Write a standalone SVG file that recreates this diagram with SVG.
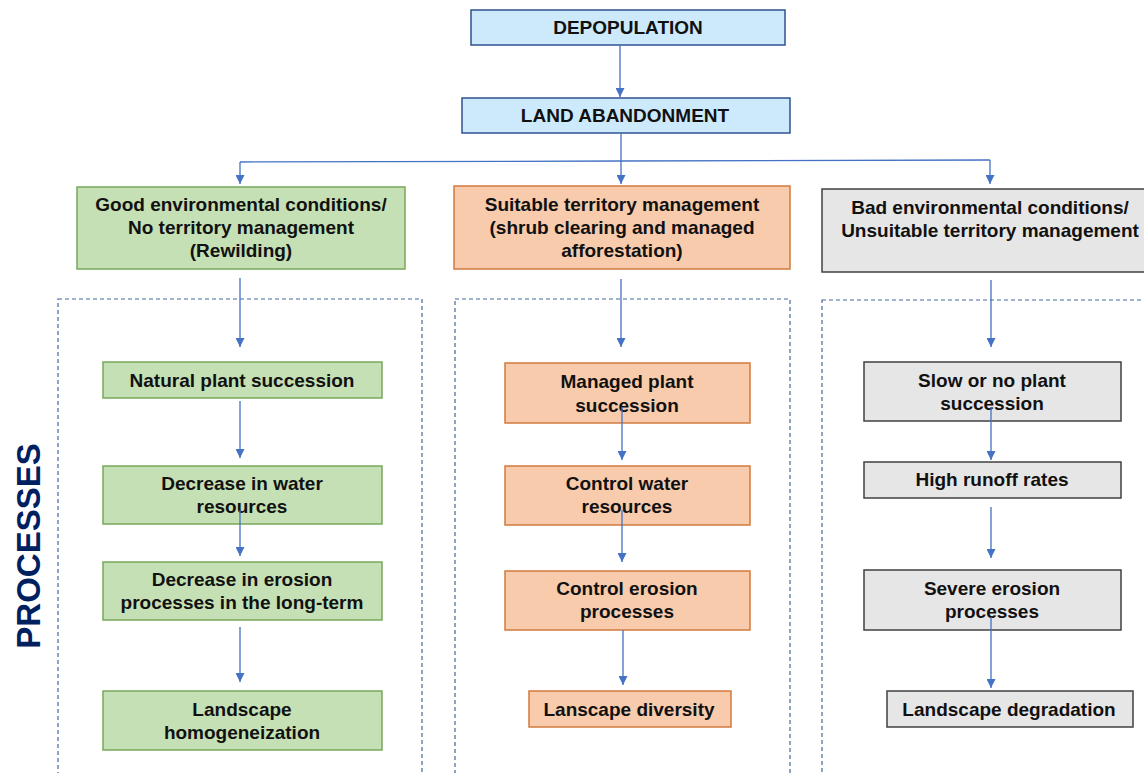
<svg xmlns="http://www.w3.org/2000/svg" width="1144" height="773" viewBox="0 0 1144 773">
<defs>
<marker id="ah" viewBox="0 0 10 10" refX="10" refY="5" markerWidth="9" markerHeight="9" markerUnits="userSpaceOnUse" orient="auto">
<path d="M0,0 L10,5 L0,10 Z" fill="#4472c4"/>
</marker>
<style>
.t{font-family:"Liberation Sans",Arial,sans-serif;font-weight:bold;font-size:19px;fill:#111;text-anchor:middle}
.blue{fill:#cdeafc;stroke:#2f528f;stroke-width:1.5}
.green{fill:#c5e0b4;stroke:#78a85a;stroke-width:1.5}
.orange{fill:#f8cbad;stroke:#d27a3e;stroke-width:1.5}
.grey{fill:#e7e6e6;stroke:#404040;stroke-width:1.5}
.dash{fill:none;stroke:#44689f;stroke-width:1.2;stroke-dasharray:4 3}
.c{fill:none;stroke:#4472c4;stroke-width:1.3}
.ca{fill:none;stroke:#4472c4;stroke-width:1.3;marker-end:url(#ah)}
</style>
</defs>
<rect width="1144" height="773" fill="#ffffff"/>

<g id="frames">
<rect class="dash" x="58" y="299" width="364" height="480"/>
<rect class="dash" x="455" y="299" width="335" height="480"/>
<rect class="dash" x="822" y="300" width="330" height="480"/>
</g>

<text x="28" y="546" transform="rotate(-90 28 546)" style="font-family:'Liberation Sans',Arial,sans-serif;font-weight:bold;font-size:33px;fill:#002060;text-anchor:middle;dominant-baseline:central">PROCESSES</text>

<g id="depopulation">
<rect class="blue" x="471" y="10" width="314" height="35"/>
<text class="t" x="628" y="34">DEPOPULATION</text>
</g>
<g id="land-abandonment">
<rect class="blue" x="462" y="98" width="328" height="35"/>
<text class="t" x="625" y="122">LAND ABANDONMENT</text>
</g>

<g id="good-conditions">
<rect class="green" x="77" y="187" width="328" height="82"/>
<text class="t" x="241" y="211">Good environmental conditions/</text>
<text class="t" x="241" y="234">No territory management</text>
<text class="t" x="241" y="257">(Rewilding)</text>
</g>
<g id="suitable-management">
<rect class="orange" x="454" y="186" width="336" height="83"/>
<text class="t" x="622" y="211">Suitable territory management</text>
<text class="t" x="622" y="234">(shrub clearing and managed</text>
<text class="t" x="622" y="257">afforestation)</text>
</g>
<g id="bad-conditions">
<rect class="grey" x="822" y="189" width="340" height="83"/>
<text class="t" x="990" y="214">Bad environmental conditions/</text>
<text class="t" x="990" y="237">Unsuitable territory management</text>
</g>

<g id="natural-succession">
<rect class="green" x="103" y="362" width="279" height="36"/>
<text class="t" x="242" y="387">Natural plant succession</text>
</g>
<g id="decrease-water">
<rect class="green" x="103" y="466" width="279" height="58"/>
<text class="t" x="242" y="490">Decrease in water</text>
<text class="t" x="242" y="513">resources</text>
</g>
<g id="decrease-erosion">
<rect class="green" x="103" y="562" width="279" height="58"/>
<text class="t" x="242" y="586">Decrease in erosion</text>
<text class="t" x="242" y="609">processes in the long-term</text>
</g>
<g id="homogeneization">
<rect class="green" x="103" y="691" width="279" height="59"/>
<text class="t" x="242" y="716">Landscape</text>
<text class="t" x="242" y="739">homogeneization</text>
</g>

<g id="managed-succession">
<rect class="orange" x="505" y="363" width="245" height="60"/>
<text class="t" x="627" y="388">Managed plant</text>
<text class="t" x="627" y="412">succession</text>
</g>
<g id="control-water">
<rect class="orange" x="505" y="466" width="245" height="59"/>
<text class="t" x="627" y="490">Control water</text>
<text class="t" x="627" y="513">resources</text>
</g>
<g id="control-erosion">
<rect class="orange" x="505" y="571" width="245" height="59"/>
<text class="t" x="627" y="595">Control erosion</text>
<text class="t" x="627" y="618">processes</text>
</g>
<g id="lanscape-diversity">
<rect class="orange" x="529" y="691" width="202" height="36"/>
<text class="t" x="629" y="716">Lanscape diversity</text>
</g>

<g id="slow-succession">
<rect class="grey" x="864" y="362" width="257" height="59"/>
<text class="t" x="992" y="387">Slow or no plant</text>
<text class="t" x="992" y="410">succession</text>
</g>
<g id="high-runoff">
<rect class="grey" x="864" y="462" width="257" height="36"/>
<text class="t" x="992" y="486">High runoff rates</text>
</g>
<g id="severe-erosion">
<rect class="grey" x="864" y="570" width="257" height="60"/>
<text class="t" x="992" y="595">Severe erosion</text>
<text class="t" x="992" y="618">processes</text>
</g>
<g id="landscape-degradation">
<rect class="grey" x="887" y="691" width="246" height="36"/>
<text class="t" x="1009" y="716">Landscape degradation</text>
</g>

<g id="connectors">
<line class="ca" x1="620" y1="45" x2="620" y2="97"/>
<line class="ca" x1="621" y1="133" x2="621" y2="184"/>
<polyline class="c" points="240,162 621,161 990,160"/>
<line class="ca" x1="240" y1="162" x2="240" y2="184"/>
<line class="ca" x1="990" y1="160" x2="990" y2="184"/>
<line class="ca" x1="240" y1="278" x2="240" y2="347"/>
<line class="ca" x1="621" y1="279" x2="621" y2="347"/>
<line class="ca" x1="991" y1="280" x2="991" y2="347"/>
<line class="ca" x1="240" y1="401" x2="240" y2="458"/>
<line class="ca" x1="240" y1="510" x2="240" y2="556"/>
<line class="ca" x1="240" y1="627" x2="240" y2="682"/>
<line class="ca" x1="622" y1="407" x2="622" y2="460"/>
<line class="ca" x1="622" y1="510" x2="622" y2="562"/>
<line class="ca" x1="623" y1="630" x2="623" y2="685"/>
<line class="ca" x1="991" y1="407" x2="991" y2="460"/>
<line class="ca" x1="991" y1="507" x2="991" y2="558"/>
<line class="ca" x1="991" y1="617" x2="991" y2="688"/>
</g>
</svg>
